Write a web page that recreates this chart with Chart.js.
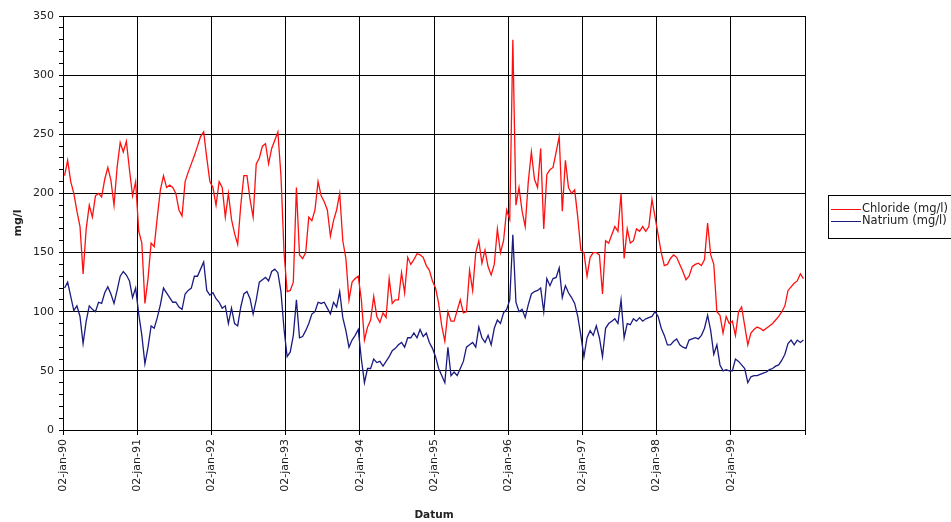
<!DOCTYPE html>
<html>
<head>
<meta charset="utf-8">
<script src="https://cdn.jsdelivr.net/npm/chart.js@4/dist/chart.umd.min.js"></script>
<style>
  html, body { margin: 0; padding: 0; background: #fff; }
  #wrap { width: 951px; height: 522px; }
</style>
</head>
<body>
<div id="wrap"><canvas id="chloride_chart"></canvas></div>
<script>
// semi-monthly readings (24 per year)
var cl90 = [215,228,210,200,185,172,132,170,190,180,198,200,197,212,222,211,190,222,243,235,244,220,198,210];
var cl91 = [168,158,107,128,158,155,180,203,215,205,207,205,200,186,181,210,218,225,232,240,248,252,230,210];
var cl92 = [205,190,210,205,180,200,178,166,157,190,215,215,195,180,225,230,240,242,225,238,245,252,215,150];
var cl93 = [117,118,125,205,148,145,150,180,177,186,210,198,193,186,164,177,186,200,160,145,110,125,128,130];
var cl94 = [110,76,87,93,113,96,91,99,95,128,107,110,110,133,116,146,140,144,149,148,146,139,135,126];
var cl95 = [120,107,88,75,100,92,92,101,110,99,100,135,118,150,160,141,152,138,131,140,170,150,160,186];
var cl96 = [178,330,190,205,185,172,210,235,212,205,238,170,216,220,222,235,248,185,228,205,200,203,180,152];
var cl97 = [150,130,146,150,150,148,115,160,158,165,172,168,200,145,170,158,160,170,168,172,168,172,195,180];
var cl98 = [165,150,139,140,145,148,146,140,134,127,130,138,140,141,139,144,175,148,140,100,97,82,96,90];
var cl99 = [92,80,100,104,88,72,82,85,87,86,84,86,88,90,93,96,100,105,118,121,124,126,132,128];

var na90 = [120,125,113,101,105,96,73,92,105,102,100,108,107,116,121,115,107,118,130,134,131,126,112,120];
var na91 = [98,80,56,70,88,86,95,106,120,116,112,108,108,104,102,115,118,120,130,130,136,142,118,114];
var na92 = [116,111,108,103,105,90,103,90,88,104,115,117,111,98,110,125,127,129,126,134,136,133,117,85];
var na93 = [62,66,80,110,78,79,84,90,98,100,108,107,108,103,98,108,104,117,95,84,70,76,80,85];
var na94 = [60,40,52,52,60,57,58,54,58,62,67,69,72,74,70,78,78,82,78,85,79,82,74,69];
var na95 = [62,52,46,40,70,46,49,46,52,58,70,72,74,70,87,78,74,80,72,86,93,90,99,102];
var na96 = [110,165,108,100,102,95,106,115,117,118,120,100,128,122,128,129,137,112,122,116,112,107,96,80];
var na97 = [62,78,84,80,88,78,62,86,90,92,94,90,110,78,90,89,94,92,95,92,94,95,96,100];
var na98 = [96,86,80,72,72,75,77,72,70,69,76,77,78,77,80,86,97,84,64,72,55,50,51,50];
var na99 = [50,60,58,55,52,40,45,46,46,47,48,49,51,52,54,55,59,64,73,76,72,76,74,76];

var years = [1990,1991,1992,1993,1994,1995,1996,1997,1998,1999];
var yearLabels = ['02-jan-90','02-jan-91','02-jan-92','02-jan-93','02-jan-94','02-jan-95','02-jan-96','02-jan-97','02-jan-98','02-jan-99'];
var seriesNames = ['Chloride (mg/l)', 'Natrium (mg/l)'];

var clYears = [cl90,cl91,cl92,cl93,cl94,cl95,cl96,cl97,cl98,cl99];
var naYears = [na90,na91,na92,na93,na94,na95,na96,na97,na98,na99];

// pair every reading with its sampling time (decimal year)
function toPoints(perYear){
  var pts = [];
  for (var y = 0; y < years.length; y++){
    var vals = perYear[y];
    for (var i = 0; i < vals.length; i++){
      pts.push({x: years[y] + (i + 0.5) / vals.length, y: vals[i]});
    }
  }
  return pts;
}

var FONT = 'DejaVu Sans';

// boxed legend at the right, like the spreadsheet original
var boxLegend = {
  id: 'boxLegend',
  afterDraw: function(chart){
    var c = chart.ctx;
    c.save();
    c.strokeStyle = '#000';
    c.lineWidth = 1;
    c.strokeRect(828.5, 195.5, 140, 43);
    c.font = '11.5px "' + FONT + '"';
    c.textBaseline = 'middle';
    chart.data.datasets.forEach(function(ds, k){
      var ly = 209 + k * 12;
      c.strokeStyle = ds.borderColor;
      c.beginPath();
      c.moveTo(831, ly + 0.5);
      c.lineTo(861, ly + 0.5);
      c.stroke();
      c.fillStyle = '#222';
      c.fillText(ds.label, 862, ly);
    });
    c.restore();
  }
};

const ctx = document.getElementById('chloride_chart');
new Chart(ctx, {
  type: 'line',
  data: {
    datasets: [{
      label: seriesNames[0],
      borderColor: '#ff1010',
      borderWidth: 1.3,
      pointRadius: 0,
      data: toPoints(clYears)
    },{
      label: seriesNames[1],
      borderColor: '#1a1a80',
      borderWidth: 1.3,
      pointRadius: 0,
      data: toPoints(naYears)
    }]
  },
  options: {
    responsive: true,
    maintainAspectRatio: false,
    animation: false,
    layout: { padding: { top: 16, right: 146, left: 0, bottom: 0 } },
    plugins: {
      legend: { display: false },
      tooltip: { enabled: false }
    },
    scales: {
      x: {
        type: 'linear',
        min: 1990,
        max: 2000,
        afterFit: function(s){ s.height = 92; },
        grid: { color: '#000', lineWidth: 1, tickLength: 5, tickColor: '#000' },
        border: { color: '#000', width: 1 },
        ticks: {
          stepSize: 1,
          autoSkip: false,
          minRotation: 90,
          maxRotation: 90,
          padding: 4,
          color: '#222',
          font: { family: FONT, size: 11 },
          callback: function(v){
            var k = years.indexOf(v);
            return k >= 0 ? yearLabels[k] : '';
          }
        },
        title: {
          display: true,
          text: 'Datum',
          color: '#222',
          font: { family: FONT, size: 10.5, weight: 'bold' },
          padding: { top: 0, bottom: 0 }
        }
      },
      y: {
        min: 0,
        max: 350,
        afterFit: function(s){ s.width = 63; },
        grid: {
          lineWidth: 1,
          tickLength: 4,
          color: function(c){ return c.tick && c.tick.value % 50 === 0 ? '#000' : 'rgba(0,0,0,0)'; },
          tickColor: '#000'
        },
        border: { color: '#000', width: 1 },
        ticks: {
          stepSize: 10,
          autoSkip: false,
          padding: 5,
          color: '#222',
          font: { family: FONT, size: 11 },
          callback: function(v){ return v % 50 === 0 ? v : ''; }
        },
        title: {
          display: true,
          text: 'mg/l',
          color: '#222',
          font: { family: FONT, size: 11, weight: 'bold' },
          padding: { top: 12, bottom: 0 }
        }
      }
    }
  },
  plugins: [boxLegend]
});
</script>
</body>
</html>
